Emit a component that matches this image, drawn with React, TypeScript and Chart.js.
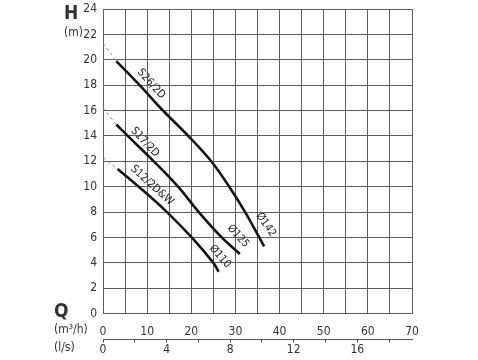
import { useEffect, useRef } from "react";
import { Chart, registerables } from "chart.js";

Chart.register(...registerables);

// Q in m³/h, H in m
const s26Q = [3, 8.3, 13.3, 19.3, 24.5, 28.6, 32.2, 35.4, 36.5];
const s26H = [19.9, 18, 16.1, 14, 12, 10, 8, 6, 5.3];
const s17Q = [3, 5.6, 11.5, 17, 21.7, 26.9, 31];
const s17H = [14.9, 14, 12, 10, 8, 6, 4.7];
const s12Q = [3.3, 8.1, 14.5, 20.1, 25, 26.2];
const s12H = [11.4, 10, 8, 6, 4, 3.3];

// dashed extrapolations to Q = 0
const s26ExtQ = [0, 3];
const s26ExtH = [21.3, 19.9];
const s17ExtQ = [0, 3];
const s17ExtH = [16.2, 14.9];
const s12ExtQ = [0, 3.3];
const s12ExtH = [12.3, 11.4];

// curve labels: text, Q, H, angle (deg)
const labelTexts = ["S26/2D", "S17/2D", "S12/2D&W", "Ø142", "Ø125", "Ø110"];
const labelQ = [10.9, 9.5, 11.1, 36.9, 30.6, 26.5];
const labelH = [18.1, 13.5, 10.1, 7.0, 6.1, 4.5];
const labelAngle = [48, 47, 42, 55, 48, 48];

const qMax = 70;
const hMax = 24;
const lsPerM3h = 1 / 3.6;

const FONT = "'DejaVu Sans Condensed', 'Liberation Sans Narrow', Roboto, sans-serif";

const pts = (xs: number[], ys: number[]) => xs.map((x, i) => ({ x, y: ys[i] }));

export default function App() {
  const ref = useRef<HTMLCanvasElement | null>(null);

  useEffect(() => {
    if (!ref.current) return;
    const curve = (data: { x: number; y: number }[]) => ({
      data,
      borderColor: "#141414",
      borderWidth: 2.6,
      pointRadius: 0,
      tension: 0.4,
      fill: false,
      xAxisID: "x",
      yAxisID: "y",
    });
    const ext = (data: { x: number; y: number }[]) => ({
      data,
      borderColor: "#8a8a8a",
      borderWidth: 1,
      borderDash: [3, 3],
      pointRadius: 0,
      fill: false,
      xAxisID: "x",
      yAxisID: "y",
    });

    const textPlugin = {
      id: "texts",
      afterDatasetsDraw(chart: any) {
        const ctx = chart.ctx as CanvasRenderingContext2D;
        const xs = chart.scales.x;
        const ys = chart.scales.y;
        ctx.save();
        ctx.fillStyle = "#222";
        ctx.textBaseline = "middle";
        ctx.textAlign = "center";
        ctx.font = `11px ${FONT}`;
        labelTexts.forEach((t, i) => {
          const px = xs.getPixelForValue(labelQ[i]);
          const py = ys.getPixelForValue(labelH[i]);
          ctx.save();
          ctx.translate(px, py);
          ctx.rotate((labelAngle[i] * Math.PI) / 180);
          ctx.fillText(t, 0, 0);
          ctx.restore();
        });
        ctx.fillStyle = "#333";
        ctx.textAlign = "left";
        ctx.font = `bold 19px ${FONT}`;
        ctx.fillText("H", 64, 14);
        ctx.fillText("Q", 54, 312);
        ctx.font = `12px ${FONT}`;
        ctx.fillText("(m)", 64, 33);
        ctx.fillText("(m³/h)", 54, 330);
        ctx.fillText("(l/s)", 54, 348);
        ctx.restore();
      },
    };

    const chart = new Chart(ref.current, {
      type: "line",
      data: {
        datasets: [
          ext(pts(s26ExtQ, s26ExtH)),
          ext(pts(s17ExtQ, s17ExtH)),
          ext(pts(s12ExtQ, s12ExtH)),
          curve(pts(s26Q, s26H)),
          curve(pts(s17Q, s17H)),
          curve(pts(s12Q, s12H)),
        ] as any,
      },
      options: {
        animation: false,
        responsive: false,
        layout: { padding: { left: 0, right: 66, top: 9, bottom: 3 } },
        plugins: { legend: { display: false }, tooltip: { enabled: false } },
        scales: {
          x: {
            type: "linear",
            position: "bottom",
            min: 0,
            max: qMax,
            ticks: {
              stepSize: 5,
              autoSkip: false,
              maxRotation: 0,
              padding: 11,
              color: "#333",
              font: { size: 12, family: FONT },
              callback: (v: any) => (Number(v) % 10 === 0 ? String(v) : ""),
            },
            grid: { color: "#5e5e5e", lineWidth: 1, drawTicks: false },
            border: { display: false },
            afterFit: (s: any) => {
              s.height = 26;
              s.paddingLeft = 0;
              s.paddingRight = 0;
            },
          },
          x2: {
            type: "linear",
            axis: "x",
            position: "bottom",
            min: 0,
            max: qMax * lsPerM3h,
            ticks: {
              stepSize: 2,
              autoSkip: false,
              maxRotation: 0,
              includeBounds: false,
              padding: 0,
              color: "#333",
              font: { size: 12, family: FONT },
              callback: (v: any) => (Number(v) % 4 === 0 ? String(v) : ""),
            },
            grid: { drawOnChartArea: false, drawTicks: true, tickLength: 3, color: "#555" },
            border: { display: true, color: "#555", width: 1 },
            afterFit: (s: any) => {
              s.paddingLeft = 0;
              s.paddingRight = 0;
            },
          } as any,
          y: {
            type: "linear",
            min: 0,
            max: hMax,
            ticks: {
              stepSize: 2,
              padding: 6,
              color: "#333",
              font: { size: 12, family: FONT },
            },
            grid: { color: "#5e5e5e", lineWidth: 1, drawTicks: false },
            border: { display: true, color: "#5e5e5e" },
            afterFit: (s: any) => {
              s.width = 103;
              s.paddingTop = 0;
              s.paddingBottom = 0;
            },
          },
        },
      },
      plugins: [textPlugin],
    });
    return () => chart.destroy();
  }, []);

  return (
    <div style={{ position: "absolute", left: 0, top: 0, width: 478, height: 360, background: "#fff" }}>
      <canvas ref={ref} width={478} height={360} style={{ width: 478, height: 360, display: "block" }} />
    </div>
  );
}
